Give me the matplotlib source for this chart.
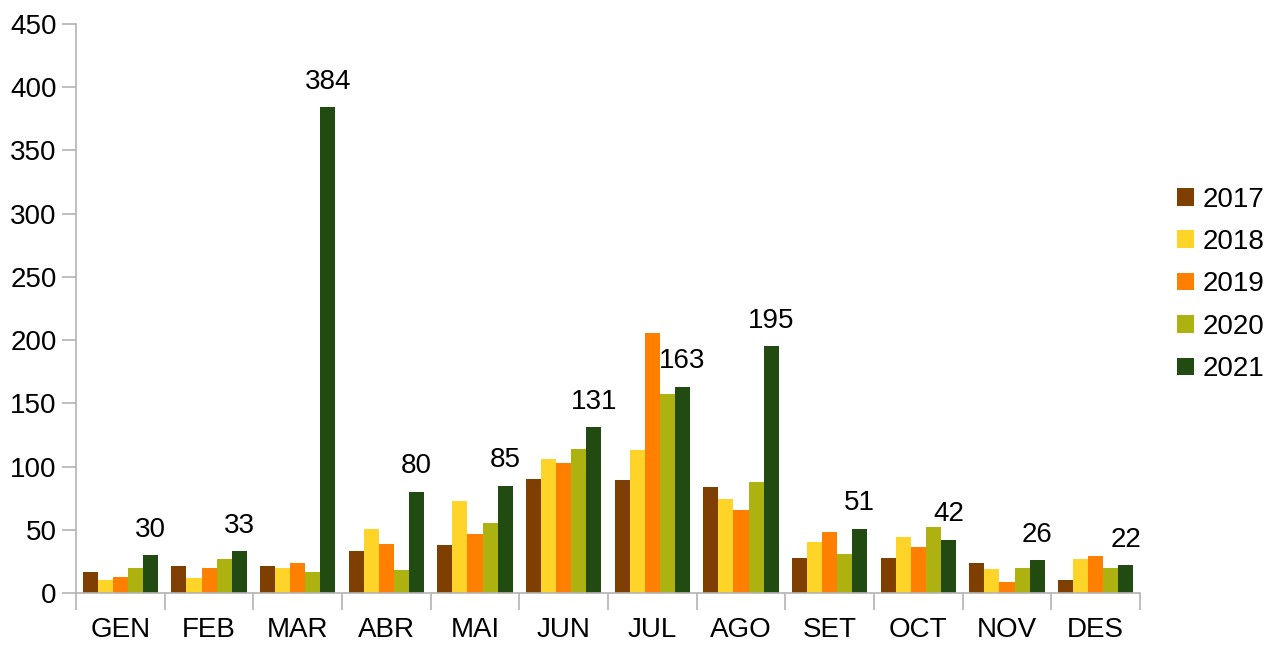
import numpy as np
import matplotlib.pyplot as plt
from matplotlib.patches import Patch

# Monthly values per year.
months = ["GEN", "FEB", "MAR", "ABR", "MAI", "JUN", "JUL", "AGO", "SET", "OCT", "NOV", "DES"]
years = ["2017", "2018", "2019", "2020", "2021"]
v2017 = [17, 21, 21, 33, 38, 90, 89, 84, 28, 28, 24, 10]
v2018 = [10, 12, 20, 51, 73, 106, 113, 74, 40, 44, 19, 27]
v2019 = [13, 20, 24, 39, 47, 103, 206, 66, 48, 36, 9, 29]
v2020 = [20, 27, 17, 18, 55, 114, 157, 88, 31, 52, 20, 20]
v2021 = [30, 33, 384, 80, 85, 131, 163, 195, 51, 42, 26, 22]
colors = ["#7e3f00", "#ffd428", "#ff8000", "#aeb211", "#224b12"]

plt.rcParams["font.family"] = ["Liberation Sans", "DejaVu Sans"]

fig = plt.figure(figsize=(12.76, 6.45), dpi=100)
ax = fig.add_axes([0.0596, 0.0806, 0.8338, 0.8822])

series = [v2017, v2018, v2019, v2020, v2021]
x = np.arange(len(months))
w = 0.17
for i, vals in enumerate(series):
    ax.bar(x + (i - 2) * w, vals, width=w, color=colors[i], linewidth=0)

# Value labels on the 2021 bars.
for xi, v in zip(x, v2021):
    ax.annotate(str(v), (xi + 2 * w, v), xytext=(0, 9), textcoords="offset points",
                ha="center", va="bottom", fontsize=20)

ax.set_xlim(-0.5, len(months) - 0.5)
ax.set_ylim(0, 450)
ax.set_yticks(np.arange(0, 451, 50))
ax.set_xticks(x)
ax.set_xticklabels(months)
ax.set_xticks(np.arange(-0.5, len(months)), minor=True)

grey = "#b3b3b3"
for side in ["top", "right"]:
    ax.spines[side].set_visible(False)
for side in ["left", "bottom"]:
    ax.spines[side].set_color(grey)
    ax.spines[side].set_linewidth(1.2)
ax.tick_params(axis="x", which="major", length=0, pad=17, labelsize=20)
ax.tick_params(axis="x", which="minor", length=12, color=grey, width=1.2)
ax.tick_params(axis="y", length=10, color=grey, width=1.2, labelsize=20, pad=4)

handles = [Patch(facecolor=c, edgecolor="none") for c in colors]
fig.legend(handles, years, loc="center left", bbox_to_anchor=(0.903, 0.559),
           frameon=False, fontsize=20, handlelength=0.6, handleheight=0.6,
           handletextpad=0.32, labelspacing=0.59)

fig.savefig("out.png", dpi=100)
